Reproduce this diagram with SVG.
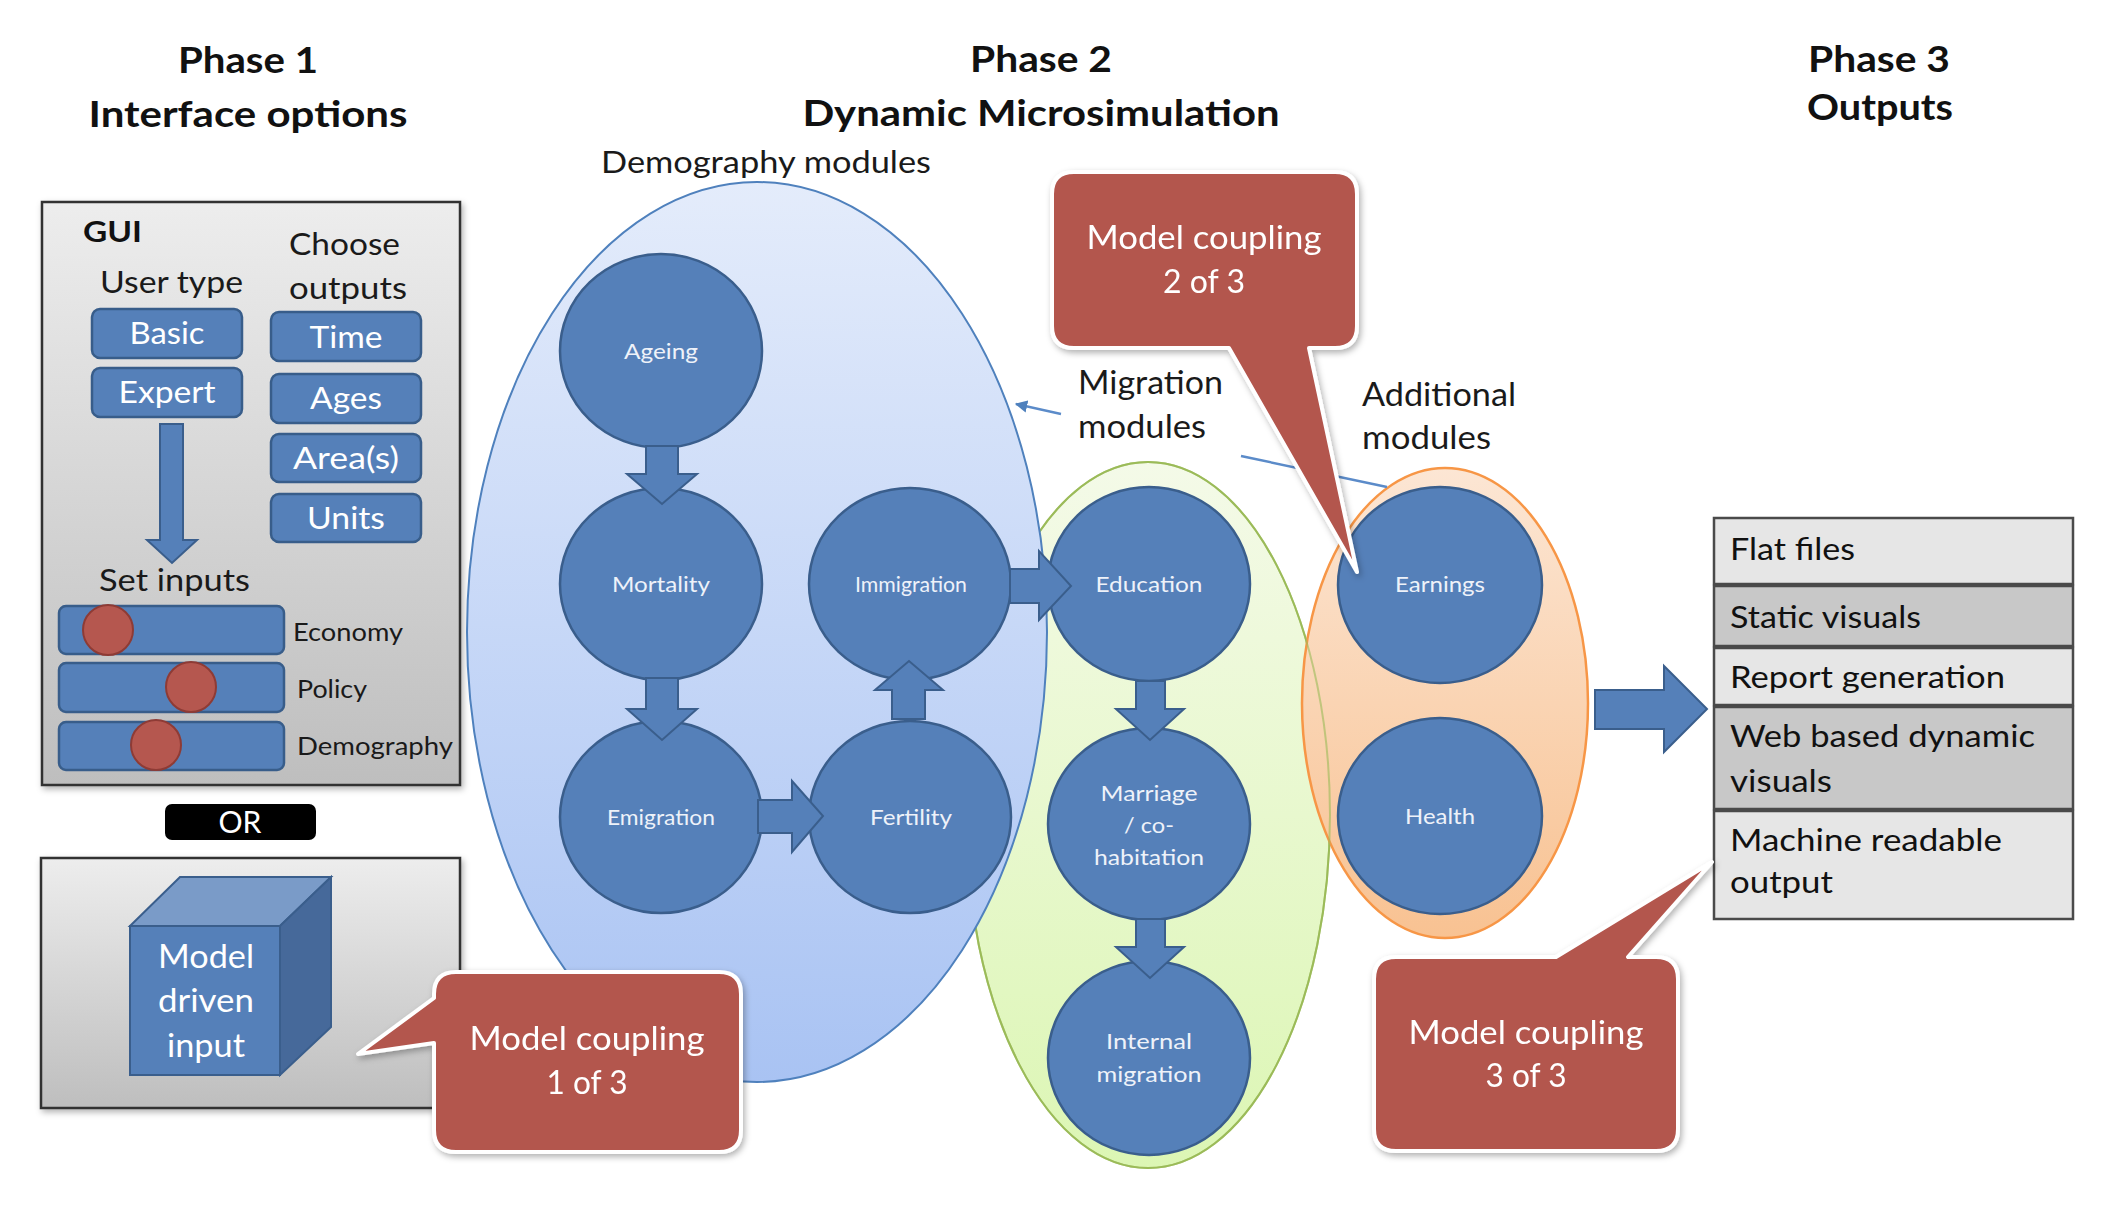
<svg xmlns="http://www.w3.org/2000/svg" width="2110" height="1206" viewBox="0 0 2110 1206">
<defs>
<linearGradient id="gPanel" x1="0" y1="0" x2="0" y2="1"><stop offset="0" stop-color="#EDEDED"/><stop offset="1" stop-color="#BEBEBE"/></linearGradient>
<linearGradient id="gBlue" x1="0" y1="0" x2="0" y2="1"><stop offset="0" stop-color="#E4ECFB"/><stop offset="1" stop-color="#A9C3F3"/></linearGradient>
<linearGradient id="gGreen" x1="0" y1="0" x2="0" y2="1"><stop offset="0" stop-color="#F4FAE8"/><stop offset="1" stop-color="#DCF6B4"/></linearGradient>
<linearGradient id="gOrange" x1="0" y1="0" x2="0" y2="1"><stop offset="0" stop-color="#FCE6D4"/><stop offset="1" stop-color="#F8C292"/></linearGradient>
<filter id="shadow" x="-10%" y="-10%" width="125%" height="125%"><feDropShadow dx="2" dy="3" stdDeviation="3" flood-color="#000" flood-opacity="0.3"/></filter>
<marker id="mArrow" viewBox="0 0 10 10" refX="9" refY="5" markerWidth="5" markerHeight="5" orient="auto"><path d="M0,0 L10,5 L0,10 z" fill="#4F81BD"/></marker>
<style>
text{font-family:Lato,"Liberation Sans",sans-serif}
.head{font-size:37px;font-weight:bold;fill:#111;text-anchor:middle}
.lbl{font-size:31px;fill:#1a1a1a}
.btn{fill:#5580B9;stroke:#385D8A;stroke-width:2.5}
.btnt{font-size:30px;fill:#fff;text-anchor:middle}
.slab{font-size:25px;fill:#1a1a1a}
.knob{fill:#B5574F;stroke:#8E3B35;stroke-width:2}
.panel{fill:url(#gPanel);stroke:#333;stroke-width:2.5}
.node{fill:#5580B9;stroke:#3A5E8C;stroke-width:2.5}
.nt{font-size:22px;fill:#EEF2F9;text-anchor:middle}
.blk{fill:#5580B9;stroke:#3A5E8C;stroke-width:2;stroke-linejoin:miter}
.call{fill:#B3564E;stroke:#fff;stroke-width:4;stroke-linejoin:round}
.ct{font-size:33px;fill:#fff;text-anchor:middle}
.row1{fill:#E6E6E6;stroke:#4A4A4A;stroke-width:2.5}
.row2{fill:#C8C8C8;stroke:#4A4A4A;stroke-width:2.5}
.ot{font-size:31px;fill:#111}
.thin{stroke:#5B8BC9;stroke-width:2.5;fill:none}
</style>
</defs>
<rect x="0" y="0" width="2110" height="1206" fill="#fff"/>

<g id="phase-titles">
<text class="head" x="248" y="73" textLength="140" lengthAdjust="spacingAndGlyphs">Phase 1</text>
<text class="head" x="248" y="127" textLength="319" lengthAdjust="spacingAndGlyphs">Interface options</text>
<text class="head" x="1041" y="72" textLength="142" lengthAdjust="spacingAndGlyphs">Phase 2</text>
<text class="head" x="1041" y="126" textLength="477" lengthAdjust="spacingAndGlyphs">Dynamic Microsimulation</text>
<text class="head" x="1879" y="72" textLength="142" lengthAdjust="spacingAndGlyphs">Phase 3</text>
<text class="head" x="1880" y="120" textLength="146" lengthAdjust="spacingAndGlyphs">Outputs</text>
</g>

<g id="gui-panel">
<rect class="panel" x="42" y="202" width="418" height="583" filter="url(#shadow)"/>
<text x="83" y="242" font-size="29" font-weight="bold" fill="#111" textLength="59" lengthAdjust="spacingAndGlyphs">GUI</text>
<text class="lbl" x="100" y="293" textLength="143" lengthAdjust="spacingAndGlyphs">User type</text>
<text class="lbl" x="289" y="255" textLength="111" lengthAdjust="spacingAndGlyphs">Choose</text>
<text class="lbl" x="289" y="299" textLength="118" lengthAdjust="spacingAndGlyphs">outputs</text>
<g id="btn-basic"><rect class="btn" x="92" y="309" width="150" height="49" rx="8"/><text class="btnt" x="167" y="344" textLength="75" lengthAdjust="spacingAndGlyphs">Basic</text></g>
<g id="btn-expert"><rect class="btn" x="92" y="368" width="150" height="49" rx="8"/><text class="btnt" x="167" y="403" textLength="97" lengthAdjust="spacingAndGlyphs">Expert</text></g>
<g id="btn-time"><rect class="btn" x="271" y="312" width="150" height="49" rx="8"/><text class="btnt" x="346" y="348" textLength="73" lengthAdjust="spacingAndGlyphs">Time</text></g>
<g id="btn-ages"><rect class="btn" x="271" y="374" width="150" height="49" rx="8"/><text class="btnt" x="346" y="409" textLength="72" lengthAdjust="spacingAndGlyphs">Ages</text></g>
<g id="btn-areas"><rect class="btn" x="271" y="434" width="150" height="48" rx="8"/><text class="btnt" x="346" y="469" textLength="106" lengthAdjust="spacingAndGlyphs">Area(s)</text></g>
<g id="btn-units"><rect class="btn" x="271" y="494" width="150" height="48" rx="8"/><text class="btnt" x="346" y="529" textLength="78" lengthAdjust="spacingAndGlyphs">Units</text></g>
<polygon class="blk" points="160,424 183,424 183,540 197,540 172,563 147,540 160,540"/>
<text class="lbl" x="99" y="591" textLength="151" lengthAdjust="spacingAndGlyphs">Set inputs</text>
<g id="slider-economy"><rect class="btn" x="59" y="606" width="225" height="48" rx="7"/><circle class="knob" cx="108" cy="630" r="25"/><text class="slab" x="293" y="641" textLength="110" lengthAdjust="spacingAndGlyphs">Economy</text></g>
<g id="slider-policy"><rect class="btn" x="59" y="663" width="225" height="49" rx="7"/><circle class="knob" cx="191" cy="687" r="25"/><text class="slab" x="297" y="698" textLength="70" lengthAdjust="spacingAndGlyphs">Policy</text></g>
<g id="slider-demography"><rect class="btn" x="59" y="722" width="225" height="48" rx="7"/><circle class="knob" cx="156" cy="745" r="25"/><text class="slab" x="297" y="755" textLength="156" lengthAdjust="spacingAndGlyphs">Demography</text></g>
</g>

<g id="or-label">
<rect x="165" y="804" width="151" height="36" rx="7" fill="#000"/>
<text x="240" y="833" font-size="30" fill="#fff" text-anchor="middle" textLength="43" lengthAdjust="spacingAndGlyphs">OR</text>
</g>

<g id="model-driven-panel">
<rect class="panel" x="41" y="858" width="419" height="250" filter="url(#shadow)"/>
<polygon points="130,926 180,877 331,877 280,926" fill="#7A9BC8" stroke="#3A5E8C" stroke-width="2"/>
<polygon points="280,926 331,877 331,1027 280,1075" fill="#46699A" stroke="#3A5E8C" stroke-width="2"/>
<rect x="130" y="926" width="150" height="149" fill="#5580B9" stroke="#3A5E8C" stroke-width="2"/>
<text x="206" y="968" font-size="33" fill="#fff" text-anchor="middle" textLength="96" lengthAdjust="spacingAndGlyphs">Model</text>
<text x="206" y="1012" font-size="33" fill="#fff" text-anchor="middle" textLength="96" lengthAdjust="spacingAndGlyphs">driven</text>
<text x="206" y="1057" font-size="33" fill="#fff" text-anchor="middle" textLength="78" lengthAdjust="spacingAndGlyphs">input</text>
</g>

<g id="module-groups">
<ellipse id="migration-modules" cx="1148" cy="815" rx="182" ry="353" fill="url(#gGreen)" stroke="#9BBB59" stroke-width="2"/>
<ellipse id="additional-modules" cx="1445" cy="703" rx="143" ry="235" fill="url(#gOrange)" stroke="#F79646" stroke-width="2.5"/>
<ellipse cx="1148" cy="815" rx="182" ry="353" fill="none" stroke="#9BBB59" stroke-width="2" opacity="0.6"/>
<ellipse id="demography-modules" cx="757" cy="632" rx="290" ry="450" fill="url(#gBlue)" stroke="#4F81BD" stroke-width="2"/>
<text x="766" y="173" font-size="30" fill="#1a1a1a" text-anchor="middle" textLength="330" lengthAdjust="spacingAndGlyphs">Demography modules</text>
<text x="1078" y="394" font-size="32" fill="#1a1a1a" textLength="145" lengthAdjust="spacingAndGlyphs">Migration</text>
<text x="1078" y="438" font-size="32" fill="#1a1a1a" textLength="128" lengthAdjust="spacingAndGlyphs">modules</text>
<text x="1362" y="406" font-size="32" fill="#1a1a1a" textLength="154" lengthAdjust="spacingAndGlyphs">Additional</text>
<text x="1362" y="449" font-size="32" fill="#1a1a1a" textLength="129" lengthAdjust="spacingAndGlyphs">modules</text>
</g>

<g id="node-ageing"><ellipse class="node" cx="661" cy="351" rx="101" ry="97"/><text class="nt" x="661" y="359" textLength="74" lengthAdjust="spacingAndGlyphs">Ageing</text></g>
<g id="node-mortality"><ellipse class="node" cx="661" cy="584" rx="101" ry="96"/><text class="nt" x="661" y="592" textLength="98" lengthAdjust="spacingAndGlyphs">Mortality</text></g>
<g id="node-emigration"><ellipse class="node" cx="661" cy="817" rx="101" ry="96"/><text class="nt" x="661" y="825" textLength="108" lengthAdjust="spacingAndGlyphs">Emigration</text></g>
<g id="node-immigration"><ellipse class="node" cx="910" cy="584" rx="101" ry="96"/><text class="nt" x="911" y="592" font-size="20" textLength="112" lengthAdjust="spacingAndGlyphs">Immigration</text></g>
<g id="node-fertility"><ellipse class="node" cx="910" cy="817" rx="101" ry="96"/><text class="nt" x="911" y="825" textLength="82" lengthAdjust="spacingAndGlyphs">Fertility</text></g>
<g id="node-education"><ellipse class="node" cx="1149" cy="584" rx="101" ry="97"/><text class="nt" x="1149" y="592" textLength="107" lengthAdjust="spacingAndGlyphs">Education</text></g>
<g id="node-marriage"><ellipse class="node" cx="1149" cy="824" rx="101" ry="96"/><text class="nt" x="1149" y="801" textLength="97" lengthAdjust="spacingAndGlyphs">Marriage</text><text class="nt" x="1149" y="833" textLength="50" lengthAdjust="spacingAndGlyphs">/ co-</text><text class="nt" x="1149" y="865" textLength="110" lengthAdjust="spacingAndGlyphs">habitation</text></g>
<g id="node-internal-migration"><ellipse class="node" cx="1149" cy="1058" rx="101" ry="97"/><text class="nt" x="1149" y="1049" textLength="86" lengthAdjust="spacingAndGlyphs">Internal</text><text class="nt" x="1149" y="1082" textLength="105" lengthAdjust="spacingAndGlyphs">migration</text></g>
<g id="node-earnings"><ellipse class="node" cx="1440" cy="585" rx="102" ry="98"/><text class="nt" x="1440" y="592" textLength="90" lengthAdjust="spacingAndGlyphs">Earnings</text></g>
<g id="node-health"><ellipse class="node" cx="1440" cy="816" rx="102" ry="98"/><text class="nt" x="1440" y="824" textLength="70" lengthAdjust="spacingAndGlyphs">Health</text></g>

<g id="outputs-table">
<rect class="row1" x="1714" y="518" width="359" height="66"/>
<rect class="row2" x="1714" y="586" width="359" height="60"/>
<rect class="row1" x="1714" y="648" width="359" height="57"/>
<rect class="row2" x="1714" y="707" width="359" height="102"/>
<rect class="row1" x="1714" y="811" width="359" height="108"/>
<text class="ot" x="1730" y="560" textLength="125" lengthAdjust="spacingAndGlyphs">Flat files</text>
<text class="ot" x="1730" y="628" textLength="191" lengthAdjust="spacingAndGlyphs">Static visuals</text>
<text class="ot" x="1730" y="688" textLength="275" lengthAdjust="spacingAndGlyphs">Report generation</text>
<text class="ot" x="1730" y="747" textLength="305" lengthAdjust="spacingAndGlyphs">Web based dynamic</text>
<text class="ot" x="1730" y="792" textLength="102" lengthAdjust="spacingAndGlyphs">visuals</text>
<text class="ot" x="1730" y="851" textLength="272" lengthAdjust="spacingAndGlyphs">Machine readable</text>
<text class="ot" x="1730" y="893" textLength="103" lengthAdjust="spacingAndGlyphs">output</text>
</g>

<g id="connectors">
<polygon class="blk" points="646,446 678,446 678,474 697,474 662,504 627,474 646,474"/>
<polygon class="blk" points="646,678 678,678 678,709 697,709 662,740 627,709 646,709"/>
<polygon class="blk" points="758,800 792,800 792,781 823,816 792,852 792,833 758,833"/>
<polygon class="blk" points="892,719 925,719 925,690 943,690 909,661 875,690 892,690"/>
<polygon class="blk" points="1010,569 1039,569 1039,551 1071,586 1039,620 1039,603 1010,603"/>
<polygon class="blk" points="1136,681 1165,681 1165,709 1184,709 1150,740 1116,709 1136,709"/>
<polygon class="blk" points="1136,919 1165,919 1165,947 1184,947 1150,978 1116,947 1136,947"/>
<polygon class="blk" points="1595,690 1664,690 1664,666 1707,709 1664,752 1664,729 1595,729"/>
<line class="thin" x1="1061" y1="414" x2="1016" y2="404" marker-end="url(#mArrow)"/>
<line class="thin" x1="1241" y1="456" x2="1387" y2="487"/>
</g>

<g id="callout-1" filter="url(#shadow)">
<path class="call" d="M456,972 H719 Q741,972 741,994 V1130 Q741,1152 719,1152 H456 Q434,1152 434,1130 V1043 L358,1054 L434,998 V994 Q434,972 456,972 Z"/>
<text class="ct" x="587" y="1050" textLength="235" lengthAdjust="spacingAndGlyphs">Model coupling</text>
<text class="ct" x="587" y="1094" textLength="81" lengthAdjust="spacingAndGlyphs">1 of 3</text>
</g>
<g id="callout-2" filter="url(#shadow)">
<path class="call" d="M1074,172 H1335 Q1357,172 1357,194 V326 Q1357,348 1335,348 H1309 L1357,572 L1229,348 H1074 Q1052,348 1052,326 V194 Q1052,172 1074,172 Z"/>
<text class="ct" x="1204" y="249" textLength="235" lengthAdjust="spacingAndGlyphs">Model coupling</text>
<text class="ct" x="1204" y="293" textLength="82" lengthAdjust="spacingAndGlyphs">2 of 3</text>
</g>
<g id="callout-3" filter="url(#shadow)">
<path class="call" d="M1396,957 H1556 L1712,862 L1628,957 H1656 Q1678,957 1678,979 V1129 Q1678,1151 1656,1151 H1396 Q1374,1151 1374,1129 V979 Q1374,957 1396,957 Z"/>
<text class="ct" x="1526" y="1044" textLength="235" lengthAdjust="spacingAndGlyphs">Model coupling</text>
<text class="ct" x="1526" y="1087" textLength="81" lengthAdjust="spacingAndGlyphs">3 of 3</text>
</g>
</svg>
